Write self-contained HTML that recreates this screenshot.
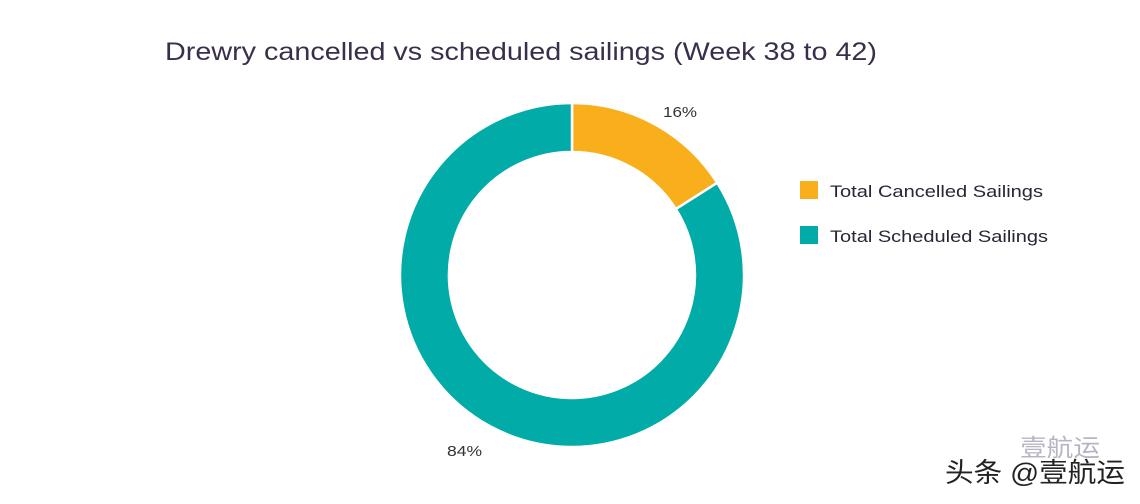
<!DOCTYPE html>
<html><head><meta charset="utf-8"><style>
html,body{margin:0;padding:0;background:#fff;}
svg{display:block;}
</style></head><body>
<svg width="1140" height="504" viewBox="0 0 1140 504" xmlns="http://www.w3.org/2000/svg">
<rect width="1140" height="504" fill="#fff"/>
<text x="165" y="60" font-family="Liberation Sans, sans-serif" font-size="25" fill="#3a2f4a" textLength="712" lengthAdjust="spacingAndGlyphs">Drewry cancelled vs scheduled sailings (Week 38 to 42)</text>
<path d="M572,103 A172,172 0 0 1 717.2,182.8 L675.8,209.1 A123,123 0 0 0 572,152 Z" fill="#F8AF1B" stroke="#fff" stroke-width="2.5"/>
<path d="M717.2,182.8 A172,172 0 1 1 572,103 L572,152 A123,123 0 1 0 675.8,209.1 Z" fill="#00ABA8" stroke="#fff" stroke-width="2.5"/>
<text x="663" y="117" font-family="Liberation Sans, sans-serif" font-size="15" fill="#333" textLength="34" lengthAdjust="spacingAndGlyphs">16%</text>
<text x="447" y="456" font-family="Liberation Sans, sans-serif" font-size="15" fill="#333" textLength="35" lengthAdjust="spacingAndGlyphs">84%</text>
<rect x="800" y="181" width="18" height="18" fill="#F8AF1B"/>
<text x="830" y="197" font-family="Liberation Sans, sans-serif" font-size="17" fill="#2a2535" textLength="213" lengthAdjust="spacingAndGlyphs">Total Cancelled Sailings</text>
<rect x="800" y="226" width="18" height="18" fill="#00ABA8"/>
<text x="830" y="242" font-family="Liberation Sans, sans-serif" font-size="17" fill="#2a2535" textLength="218" lengthAdjust="spacingAndGlyphs">Total Scheduled Sailings</text>
<text x="1020" y="456" font-family="Liberation Sans, 'Noto Sans CJK SC', sans-serif" font-size="24" fill="#b8b4c4" textLength="80" lengthAdjust="spacingAndGlyphs">壹航运</text>
<text x="945" y="482" font-family="Liberation Sans, 'Noto Sans CJK SC', sans-serif" font-size="27" fill="#222" textLength="180" lengthAdjust="spacingAndGlyphs">头条 @壹航运</text>
</svg>
</body></html>
